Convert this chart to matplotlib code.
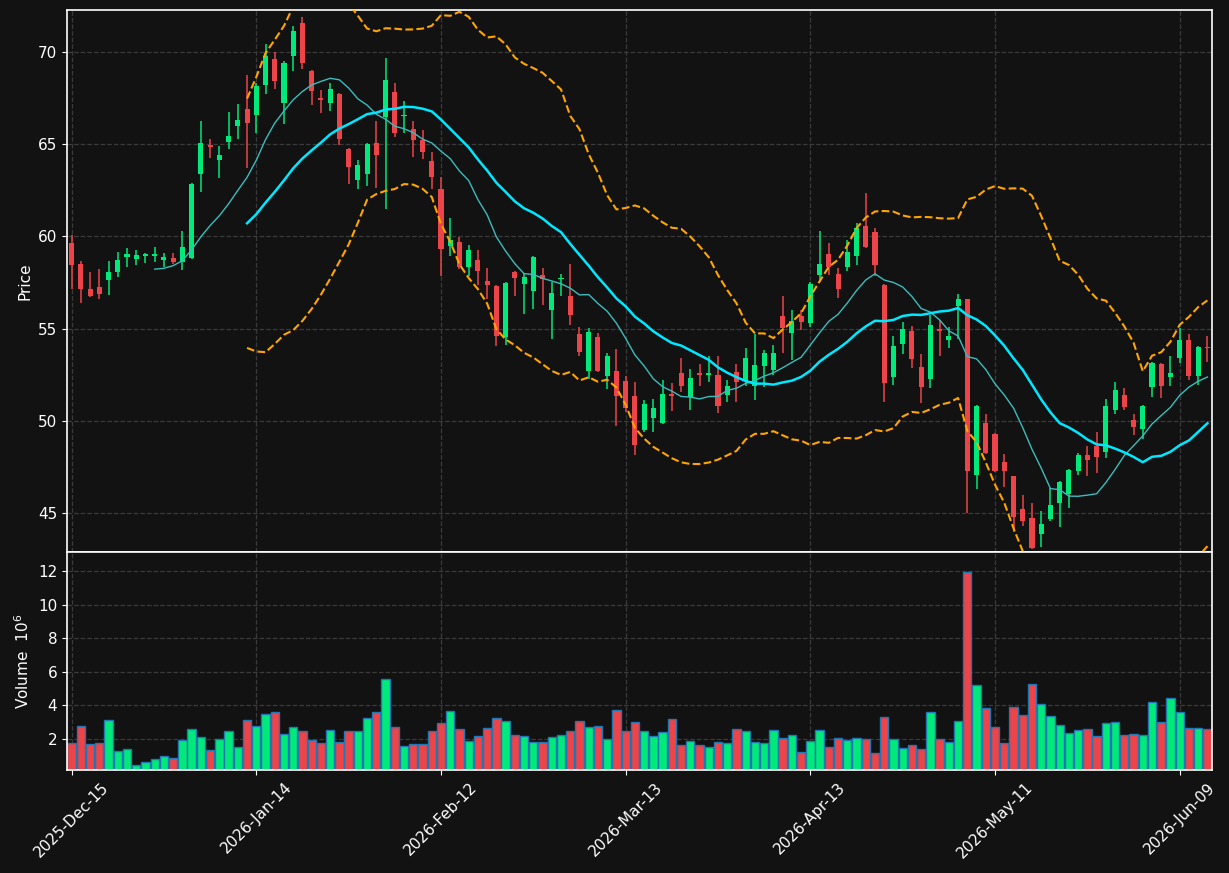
import numpy as np
import pandas as pd
import matplotlib
matplotlib.use("Agg")
import matplotlib.pyplot as plt

# daily OHLC + volume (millions), 124 sessions from 2025-12-15
opens = [59.61, 58.52, 57.16, 57.27, 57.61, 58.05, 58.86, 58.76, 58.91, 58.91,
         58.70, 58.84, 58.59, 58.80, 63.35, 64.95, 64.11, 65.09, 65.95, 66.91,
         66.56, 68.17, 69.62, 67.23, 69.76, 71.56, 68.96, 67.46, 67.23, 67.72,
         64.75, 63.03, 63.35, 65.07, 66.44, 67.82, 66.52, 65.82, 65.22, 64.09,
         62.56, 59.46, 59.70, 58.35, 58.69, 57.59, 57.33, 54.53, 58.08, 57.41,
         57.03, 57.88, 55.99, 57.67, 56.78, 54.68, 52.68, 54.56, 52.42, 52.72,
         52.17, 51.36, 49.48, 50.14, 49.88, 51.48, 52.62, 51.29, 52.57, 52.47,
         52.51, 51.38, 52.64, 52.17, 51.89, 52.98, 52.74, 55.69, 54.75, 55.69,
         55.28, 57.88, 59.04, 57.97, 58.33, 58.91, 60.55, 60.25, 57.37, 52.36,
         54.15, 54.86, 52.94, 52.27, 54.96, 54.37, 56.20, 56.58, 47.05, 49.90,
         49.31, 47.79, 46.99, 45.24, 44.76, 43.85, 44.70, 45.53, 46.05, 47.28,
         48.16, 48.65, 48.31, 50.57, 51.40, 50.05, 49.54, 51.85, 53.06, 52.36,
         53.40, 54.39, 52.45, 54.00]
highs = [60.08, 58.67, 58.06, 58.23, 58.67, 59.16, 59.36, 59.25, 59.10, 59.42,
         59.10, 59.10, 60.31, 62.90, 66.25, 65.27, 64.90, 66.72, 67.14, 68.74,
         68.30, 70.41, 70.00, 69.49, 71.39, 71.90, 69.00, 67.93, 68.31, 67.75,
         64.78, 64.13, 65.05, 66.23, 69.66, 68.31, 67.33, 66.23, 65.73, 64.54,
         63.22, 60.98, 59.95, 59.51, 59.25, 58.29, 57.35, 57.54, 58.10, 58.01,
         58.92, 58.29, 57.50, 57.97, 58.50, 55.09, 55.05, 54.75, 53.68, 53.92,
         52.45, 52.12, 51.14, 51.19, 52.21, 52.04, 53.43, 52.83, 53.08, 53.51,
         53.49, 52.21, 53.08, 53.96, 54.68, 53.83, 54.11, 56.78, 56.03, 56.03,
         57.54, 60.31, 59.65, 58.29, 59.80, 60.74, 62.34, 60.46, 57.42, 54.58,
         55.33, 55.15, 53.62, 55.75, 55.47, 55.09, 56.88, 56.60, 50.85, 50.38,
         49.35, 48.22, 47.03, 45.96, 45.53, 45.11, 46.34, 46.75, 47.41, 48.28,
         48.65, 49.41, 51.19, 52.12, 51.76, 50.38, 50.85, 53.20, 53.11, 53.49,
         55.05, 54.68, 54.06, 54.62]
lows = [57.16, 56.37, 56.69, 56.60, 56.82, 57.80, 58.33, 58.44, 58.55, 58.61,
        58.33, 58.48, 58.18, 58.75, 62.39, 64.22, 63.15, 64.73, 65.26, 63.67,
        65.60, 67.70, 67.97, 66.08, 68.93, 69.06, 67.10, 66.67, 66.76, 64.94,
        62.83, 62.56, 62.73, 62.62, 61.47, 65.39, 65.59, 64.30, 64.16, 62.56,
        57.86, 58.95, 58.22, 57.82, 57.35, 56.60, 54.05, 54.11, 56.78, 55.81,
        56.07, 56.28, 54.43, 56.75, 55.18, 53.53, 52.27, 52.64, 51.74, 49.73,
        50.48, 48.16, 49.41, 49.41, 49.85, 50.53, 51.55, 50.57, 51.89, 52.08,
        50.42, 51.00, 51.00, 51.89, 51.14, 51.85, 52.49, 53.68, 53.30, 54.90,
        55.09, 57.54, 57.91, 56.63, 58.14, 58.44, 59.36, 57.82, 51.04, 51.95,
        53.62, 52.89, 50.95, 51.80, 53.49, 53.96, 54.43, 45.02, 46.30, 48.20,
        47.25, 46.43, 43.98, 44.30, 43.04, 43.17, 44.59, 44.27, 45.30, 47.09,
        47.03, 47.18, 47.99, 50.38, 50.57, 49.22, 49.03, 51.29, 51.23, 51.89,
        53.11, 52.23, 51.93, 53.21]
closes = [58.42, 57.16, 56.75, 56.86, 58.08, 58.74, 59.06, 59.01, 59.03, 59.06,
          58.89, 58.59, 59.44, 62.81, 65.07, 64.82, 64.39, 65.44, 66.31, 66.12,
          68.16, 69.76, 68.40, 69.36, 71.13, 69.36, 67.89, 67.36, 68.00, 65.29,
          63.73, 63.88, 65.01, 64.39, 68.44, 65.58, 66.57, 65.20, 64.54, 63.20,
          59.29, 59.80, 58.33, 59.23, 58.10, 57.35, 54.62, 57.48, 57.73, 57.80,
          58.89, 57.67, 56.90, 57.71, 55.71, 53.72, 54.79, 52.68, 53.49, 51.33,
          50.70, 48.69, 50.93, 50.72, 51.48, 51.33, 51.87, 52.34, 52.51, 52.62,
          50.80, 51.89, 52.12, 53.38, 53.00, 53.70, 53.70, 55.05, 55.43, 55.37,
          57.44, 58.52, 58.33, 57.16, 59.12, 60.46, 59.42, 58.42, 52.04, 54.05,
          55.00, 53.36, 51.83, 55.22, 54.86, 54.60, 56.58, 47.28, 50.82, 48.26,
          47.28, 47.28, 44.77, 44.60, 43.14, 44.43, 45.47, 46.71, 47.33, 48.16,
          47.90, 48.03, 50.82, 51.68, 50.76, 49.69, 50.82, 53.15, 51.91, 52.62,
          54.39, 52.45, 54.02, 53.96]
volumes = [1.76, 2.76, 1.70, 1.76, 3.12, 1.28, 1.40, 0.42, 0.62, 0.80,
           0.96, 0.86, 1.94, 2.58, 2.10, 1.34, 1.98, 2.46, 1.50, 3.12,
           2.78, 3.44, 3.56, 2.30, 2.70, 2.46, 1.92, 1.76, 2.52, 1.80,
           2.46, 2.46, 3.24, 3.60, 5.53, 2.70, 1.56, 1.68, 1.68, 2.46,
           2.90, 3.66, 2.60, 1.88, 2.18, 2.66, 3.20, 3.07, 2.24, 2.18,
           1.82, 1.82, 2.12, 2.24, 2.48, 3.07, 2.72, 2.78, 2.00, 3.73,
           2.48, 3.01, 2.48, 2.18, 2.42, 3.14, 1.64, 1.88, 1.64, 1.52,
           1.82, 1.76, 2.60, 2.48, 1.82, 1.76, 2.54, 2.06, 2.24, 1.22,
           1.88, 2.54, 1.52, 2.06, 1.94, 2.06, 2.00, 1.16, 3.26, 2.00,
           1.46, 1.64, 1.40, 3.56, 2.00, 1.82, 3.02, 11.94, 5.17, 3.85,
           2.72, 1.76, 3.91, 3.43, 5.23, 4.09, 3.37, 2.83, 2.35, 2.54,
           2.60, 2.18, 2.90, 2.96, 2.24, 2.30, 2.24, 4.21, 2.96, 4.45,
           3.56, 2.66, 2.66, 2.60]
tick_labels = ['2025-Dec-15', '2026-Jan-14', '2026-Feb-12', '2026-Mar-13',
               '2026-Apr-13', '2026-May-11', '2026-Jun-09']

df = pd.DataFrame({'Open': opens, 'High': highs, 'Low': lows,
                   'Close': closes, 'Volume': volumes})
n = len(df)
x = np.arange(n)

ma10 = df['Close'].rolling(10).mean()
ma20 = df['Close'].rolling(20).mean()
sd20 = df['Close'].rolling(20).std()
upper = ma20 + 2 * sd20
lower = ma20 - 2 * sd20

BG = '#121212'
UP = '#00e97a'
DOWN = '#ec4449'
up = df['Close'] >= df['Open']
cols = np.where(up, UP, DOWN)

fig = plt.figure(figsize=(12.29, 8.73), dpi=100, facecolor=BG)
ax = fig.add_axes([0.0545, 0.3677, 0.9317, 0.6208])
axv = fig.add_axes([0.0545, 0.118, 0.9317, 0.2497], sharex=ax)

for a in (ax, axv):
    a.set_facecolor(BG)
    for s in a.spines.values():
        s.set_color('white')
        s.set_linewidth(1.2)
    a.tick_params(colors='white', labelsize=11)
    a.grid(True, color='#3a3a3a', linestyle='--', linewidth=0.9)
    a.set_axisbelow(True)

# candles
ax.vlines(x, df['Low'], df['High'], colors=cols, linewidth=1.1, zorder=2)
body_lo = np.minimum(df['Open'], df['Close'])
body_h = np.maximum((df['Close'] - df['Open']).abs(), 0.06)
ax.bar(x, body_h, bottom=body_lo, width=0.55, color=cols, linewidth=0, zorder=3)

# moving averages and bands
ax.plot(x, ma10, color='#3cbcbc', linewidth=1.0, zorder=4)
ax.plot(x, ma20, color='#00e8ff', linewidth=1.8, zorder=4)
ax.plot(x, upper, color='orange', linewidth=1.5, linestyle='--', zorder=4)
ax.plot(x, lower, color='orange', linewidth=1.5, linestyle='--', zorder=4)

ax.set_ylim(42.90, 72.25)
ax.set_yticks([45, 50, 55, 60, 65, 70])
ax.set_ylabel('Price', color='white', fontsize=11)
ax.tick_params(axis='x', labelbottom=False, length=0)

# volume
axv.bar(x, df['Volume'], width=0.9, color=cols, edgecolor='#1f77b4', linewidth=1.0)
axv.set_ylim(0.3 * min(volumes), 1.1 * max(volumes))
axv.set_yticks([2, 4, 6, 8, 10, 12])
axv.set_ylabel('Volume  $10^{6}$', color='white', fontsize=11)

axv.set_xlim(-0.5, n - 0.5)
axv.set_xticks(np.arange(0, n, 20))
axv.set_xticklabels(tick_labels, rotation=45, fontsize=11)

fig.savefig('out.png', dpi=100, facecolor=BG)
